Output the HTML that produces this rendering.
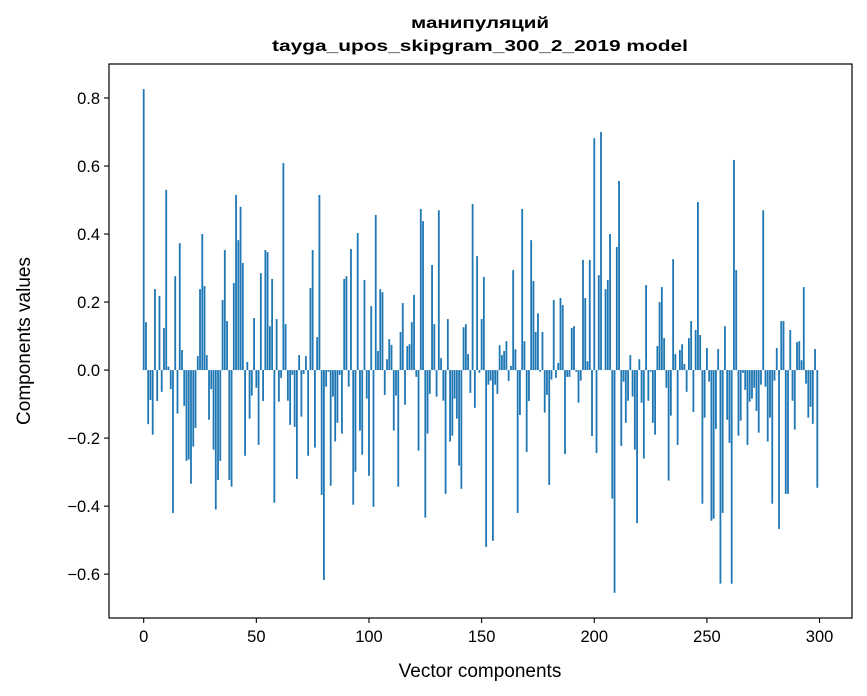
<!DOCTYPE html>
<html><head><meta charset="utf-8"><style>
html,body{margin:0;padding:0;background:#fff;}
svg{display:block;font-family:"Liberation Sans",sans-serif;}
</style></head><body>
<svg id="chart" width="867" height="696" viewBox="0 0 867 696" xmlns="http://www.w3.org/2000/svg">
<rect width="867" height="696" fill="#fff"/>
<text x="480" y="28" text-anchor="middle" font-weight="bold" font-size="16" textLength="138" lengthAdjust="spacingAndGlyphs">манипуляций</text>
<text x="480" y="51" text-anchor="middle" font-weight="bold" font-size="16" textLength="416" lengthAdjust="spacingAndGlyphs">tayga_upos_skipgram_300_2_2019 model</text>
<g id="bars"></g>
<g id="axes"></g>
<rect x="109" y="64" width="743" height="554" fill="none" stroke="#000" stroke-width="1.2"/>
<text x="480" y="677" text-anchor="middle" font-size="19">Vector components</text>
<text transform="translate(30,341) rotate(-90)" text-anchor="middle" font-size="19">Components values</text>
</svg>
<script>
const values = [0.826,0.141,-0.159,-0.088,-0.19,0.238,-0.091,0.218,-0.064,0.124,0.53,0.01,-0.056,-0.42,0.276,-0.128,0.373,0.059,-0.105,-0.267,-0.263,-0.334,-0.225,-0.17,0.041,0.238,0.40,0.247,0.044,-0.146,-0.056,-0.234,-0.41,-0.323,-0.267,0.206,0.353,0.144,-0.323,-0.343,0.256,0.515,0.382,0.48,0.315,-0.252,0.024,-0.143,-0.075,0.153,-0.052,
-0.22,0.285,-0.091,0.353,0.347,0.129,0.268,-0.39,0.15,-0.093,-0.023,0.609,0.135,-0.09,-0.161,-0.014,-0.167,-0.32,0.044,-0.137,-0.011,0.041,-0.252,0.241,0.353,-0.228,0.097,0.515,-0.367,-0.617,-0.049,-0.005,-0.34,-0.078,-0.21,-0.155,-0.014,-0.187,0.268,0.276,-0.049,0.356,-0.396,-0.299,0.403,-0.178,-0.249,0.265,-0.084,-0.311,0.188,
-0.402,0.456,0.056,0.238,0.229,-0.073,0.032,0.091,0.074,-0.178,-0.075,-0.343,0.112,0.197,-0.102,0.071,0.076,0.141,0.221,-0.02,-0.237,0.474,0.438,-0.434,-0.187,-0.07,0.309,0.135,-0.078,0.47,0.035,-0.09,-0.364,0.15,-0.21,-0.193,-0.084,-0.143,-0.281,-0.349,0.126,0.135,0.047,-0.067,0.488,-0.111,0.335,-0.008,0.15,0.274,
-0.52,-0.043,-0.031,-0.502,-0.043,-0.07,0.073,0.044,0.056,0.085,-0.032,0.012,0.294,0.061,-0.42,-0.132,0.474,0.085,-0.241,-0.091,
0.382,0.262,0.112,0.167,-0.005,0.112,-0.125,-0.073,-0.338,-0.028,0.206,-0.023,0.021,0.212,0.191,-0.247,-0.02,-0.02,0.124,0.129,-0.005,-0.096,-0.031,0.324,0.212,0.026,0.324,-0.194,0.682,
-0.244,0.279,0.70,0.0,0.238,0.265,0.40,-0.378,-0.655,0.362,0.556,-0.223,-0.034,-0.155,-0.09,0.044,-0.078,-0.234,-0.45,0.032,-0.096,-0.26,0.25,-0.09,-0.005,-0.155,-0.19,0.071,0.2,0.244,0.094,-0.052,-0.325,-0.134,0.326,0.047,-0.22,0.059,0.076,0.018,-0.064,0.094,0.144,-0.123,0.118,0.494,0.103,-0.393,-0.14,0.065,-0.034,-0.443,
-0.437,-0.173,0.062,-0.628,-0.42,0.129,-0.146,-0.214,-0.628,0.618,0.294,-0.193,-0.149,-0.008,-0.058,-0.22,-0.093,-0.084,-0.052,-0.12,-0.184,-0.043,0.47,-0.049,-0.21,-0.14,-0.393,-0.031,0.065,-0.467,0.144,0.144,-0.364,-0.364,0.118,-0.09,-0.175,0.082,0.085,0.029,0.244,-0.04,-0.14,-0.108,-0.158,0.062,-0.346];
const xTicks = [0,50,100,150,200,250,300];
const yTicks = [-0.6,-0.4,-0.2,0.0,0.2,0.4,0.6,0.8];

const NS = "http://www.w3.org/2000/svg";
const L = 109, R = 852, T = 64, B = 618;
const xMin = -15.4, xMax = 314.4, yMin = -0.729, yMax = 0.9;
function xs(v){ return L + (v - xMin) / (xMax - xMin) * (R - L); }
function ys(v){ return B - (v - yMin) / (yMax - yMin) * (B - T); }

const bars = document.getElementById('bars');
const bw = xs(0.8) - xs(0);
values.forEach(function(v, i){
  const r = document.createElementNS(NS, 'rect');
  const y0 = ys(0), y1 = ys(v);
  r.setAttribute('x', xs(i) - bw/2);
  r.setAttribute('y', Math.min(y0, y1));
  r.setAttribute('width', bw);
  r.setAttribute('height', Math.max(Math.abs(y1 - y0), 0.01));
  r.setAttribute('fill', '#1f77b4');
  
  
  bars.appendChild(r);
});

const axes = document.getElementById('axes');
xTicks.forEach(function(t){
  const x = xs(t);
  const ln = document.createElementNS(NS, 'line');
  ln.setAttribute('x1', x); ln.setAttribute('x2', x);
  ln.setAttribute('y1', B); ln.setAttribute('y2', B + 5);
  ln.setAttribute('stroke', '#000'); ln.setAttribute('stroke-width', '1.1');
  
  
  axes.appendChild(ln);
  const tx = document.createElementNS(NS, 'text');
  tx.setAttribute('x', x); tx.setAttribute('y', B + 24);
  tx.setAttribute('text-anchor', 'middle'); tx.setAttribute('font-size', '16.5');
  tx.textContent = String(t);
  
  
  axes.appendChild(tx);
});
yTicks.forEach(function(t){
  const y = ys(t);
  const ln = document.createElementNS(NS, 'line');
  ln.setAttribute('x1', L - 5); ln.setAttribute('x2', L);
  ln.setAttribute('y1', y); ln.setAttribute('y2', y);
  ln.setAttribute('stroke', '#000'); ln.setAttribute('stroke-width', '1.1');
  
  
  axes.appendChild(ln);
  const tx = document.createElementNS(NS, 'text');
  tx.setAttribute('x', L - 9); tx.setAttribute('y', y + 6);
  tx.setAttribute('text-anchor', 'end'); tx.setAttribute('font-size', '16.5');
  tx.textContent = (t < 0 ? '\u2212' : '') + Math.abs(t).toFixed(1);
  
  
  axes.appendChild(tx);
});
</script>
</body></html>
